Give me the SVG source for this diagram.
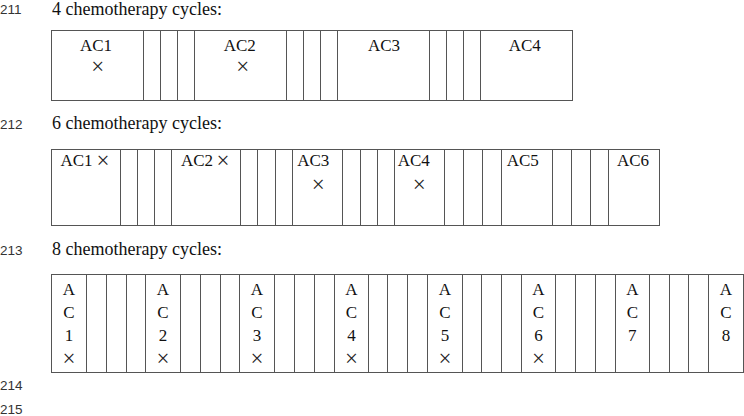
<svg xmlns="http://www.w3.org/2000/svg" width="744" height="416" viewBox="0 0 744 416">
<style>
.c{fill:none;stroke:#555;stroke-width:1}
.l{font-family:"Liberation Serif","Times New Roman",serif;font-size:17px;fill:#111;text-anchor:middle}
.ls{font-family:"Liberation Serif","Times New Roman",serif;font-size:17px;fill:#111}
.x{font-family:"Liberation Serif","Times New Roman",serif;font-size:23px;fill:#222;text-anchor:middle}
.t{font-family:"Liberation Serif","Times New Roman",serif;font-size:18px;fill:#111}
.n{font-family:"Liberation Sans",Arial,sans-serif;font-size:13.5px;fill:#333}
</style>
<rect width="744" height="416" fill="#fff"/>
<g id="line-numbers">
<text class="n" x="0" y="13.5">211</text>
<text class="n" x="0" y="128.5">212</text>
<text class="n" x="0" y="255">213</text>
<text class="n" x="0" y="390">214</text>
<text class="n" x="0" y="414">215</text>
</g>
<g id="titles">
<text class="t" x="52" y="14.5">4 chemotherapy cycles:</text>
<text class="t" x="52" y="128.5">6 chemotherapy cycles:</text>
<text class="t" x="52" y="255">8 chemotherapy cycles:</text>
</g>

<g id="row4">
<g id="r4-ac1"><rect class="c" x="51.5" y="30.5" width="92" height="70"/><text class="l" x="96" y="51">AC1</text><text class="x" x="97.7" y="74">×</text></g>
<g id="r4-gap1"><rect class="c" x="143.5" y="30.5" width="17" height="70"/><rect class="c" x="160.5" y="30.5" width="17" height="70"/><rect class="c" x="177.5" y="30.5" width="17" height="70"/></g>
<g id="r4-ac2"><rect class="c" x="194.5" y="30.5" width="92" height="70"/><text class="l" x="239.7" y="51">AC2</text><text class="x" x="242.7" y="74">×</text></g>
<g id="r4-gap2"><rect class="c" x="286.5" y="30.5" width="17" height="70"/><rect class="c" x="303.5" y="30.5" width="17" height="70"/><rect class="c" x="320.5" y="30.5" width="17" height="70"/></g>
<g id="r4-ac3"><rect class="c" x="337.5" y="30.5" width="92" height="70"/><text class="l" x="384" y="51">AC3</text></g>
<g id="r4-gap3"><rect class="c" x="429.5" y="30.5" width="17" height="70"/><rect class="c" x="446.5" y="30.5" width="17" height="70"/><rect class="c" x="463.5" y="30.5" width="17" height="70"/></g>
<g id="r4-ac4"><rect class="c" x="480.5" y="30.5" width="92" height="70"/><text class="l" x="524.7" y="51">AC4</text></g>
</g>

<g id="row6">
<g id="r6-ac1"><rect class="c" x="51.5" y="149.5" width="69" height="76"/><text class="ls" x="60.5" y="165.5">AC1</text><text class="x" x="103" y="167.5">×</text></g>
<g id="r6-gap1"><rect class="c" x="120.5" y="149.5" width="17" height="76"/><rect class="c" x="137.5" y="149.5" width="17" height="76"/><rect class="c" x="154.5" y="149.5" width="17" height="76"/></g>
<g id="r6-ac2"><rect class="c" x="171.5" y="149.5" width="69" height="76"/><text class="ls" x="181" y="165.5">AC2</text><text class="x" x="223" y="167.5">×</text></g>
<g id="r6-gap2"><rect class="c" x="240.5" y="149.5" width="17" height="76"/><rect class="c" x="257.5" y="149.5" width="18" height="76"/><rect class="c" x="275.5" y="149.5" width="17" height="76"/></g>
<g id="r6-ac3"><rect class="c" x="292.5" y="149.5" width="50" height="76"/><text class="l" x="313.3" y="166">AC3</text><text class="x" x="318.3" y="192">×</text></g>
<g id="r6-gap3"><rect class="c" x="342.5" y="149.5" width="18" height="76"/><rect class="c" x="360.5" y="149.5" width="17" height="76"/><rect class="c" x="377.5" y="149.5" width="17" height="76"/></g>
<g id="r6-ac4"><rect class="c" x="394.5" y="149.5" width="50" height="76"/><text class="l" x="413.7" y="166">AC4</text><text class="x" x="419.3" y="192">×</text></g>
<g id="r6-gap4"><rect class="c" x="444.5" y="149.5" width="19" height="76"/><rect class="c" x="463.5" y="149.5" width="19" height="76"/><rect class="c" x="482.5" y="149.5" width="19" height="76"/></g>
<g id="r6-ac5"><rect class="c" x="501.5" y="149.5" width="51" height="76"/><text class="l" x="522.8" y="166">AC5</text></g>
<g id="r6-gap5"><rect class="c" x="552.5" y="149.5" width="19" height="76"/><rect class="c" x="571.5" y="149.5" width="19" height="76"/><rect class="c" x="590.5" y="149.5" width="18" height="76"/></g>
<g id="r6-ac6"><rect class="c" x="608.5" y="149.5" width="51" height="76"/><text class="l" x="633" y="166">AC6</text></g>
</g>

<g id="row8">
<g id="r8-ac1"><rect class="c" x="51.5" y="274.5" width="35" height="98"/><text class="l" x="69" y="294.5">A</text><text class="l" x="69" y="317.5">C</text><text class="l" x="69" y="340.5">1</text><text class="x" x="69" y="365.5">×</text></g>
<g id="r8-gap1"><rect class="c" x="86.5" y="274.5" width="20" height="98"/><rect class="c" x="106.5" y="274.5" width="20" height="98"/><rect class="c" x="126.5" y="274.5" width="19" height="98"/></g>
<g id="r8-ac2"><rect class="c" x="145.5" y="274.5" width="35" height="98"/><text class="l" x="163" y="294.5">A</text><text class="l" x="163" y="317.5">C</text><text class="l" x="163" y="340.5">2</text><text class="x" x="163" y="365.5">×</text></g>
<g id="r8-gap2"><rect class="c" x="180.5" y="274.5" width="20" height="98"/><rect class="c" x="200.5" y="274.5" width="20" height="98"/><rect class="c" x="220.5" y="274.5" width="19" height="98"/></g>
<g id="r8-ac3"><rect class="c" x="239.5" y="274.5" width="35" height="98"/><text class="l" x="257" y="294.5">A</text><text class="l" x="257" y="317.5">C</text><text class="l" x="257" y="340.5">3</text><text class="x" x="257" y="365.5">×</text></g>
<g id="r8-gap3"><rect class="c" x="274.5" y="274.5" width="20" height="98"/><rect class="c" x="294.5" y="274.5" width="20" height="98"/><rect class="c" x="314.5" y="274.5" width="20" height="98"/></g>
<g id="r8-ac4"><rect class="c" x="334.5" y="274.5" width="34" height="98"/><text class="l" x="351.5" y="294.5">A</text><text class="l" x="351.5" y="317.5">C</text><text class="l" x="351.5" y="340.5">4</text><text class="x" x="351.5" y="365.5">×</text></g>
<g id="r8-gap4"><rect class="c" x="368.5" y="274.5" width="19" height="98"/><rect class="c" x="387.5" y="274.5" width="20" height="98"/><rect class="c" x="407.5" y="274.5" width="20" height="98"/></g>
<g id="r8-ac5"><rect class="c" x="427.5" y="274.5" width="35" height="98"/><text class="l" x="445" y="294.5">A</text><text class="l" x="445" y="317.5">C</text><text class="l" x="445" y="340.5">5</text><text class="x" x="445" y="365.5">×</text></g>
<g id="r8-gap5"><rect class="c" x="462.5" y="274.5" width="19" height="98"/><rect class="c" x="481.5" y="274.5" width="20" height="98"/><rect class="c" x="501.5" y="274.5" width="20" height="98"/></g>
<g id="r8-ac6"><rect class="c" x="521.5" y="274.5" width="34" height="98"/><text class="l" x="538.5" y="294.5">A</text><text class="l" x="538.5" y="317.5">C</text><text class="l" x="538.5" y="340.5">6</text><text class="x" x="538.5" y="365.5">×</text></g>
<g id="r8-gap6"><rect class="c" x="555.5" y="274.5" width="20" height="98"/><rect class="c" x="575.5" y="274.5" width="20" height="98"/><rect class="c" x="595.5" y="274.5" width="20" height="98"/></g>
<g id="r8-ac7"><rect class="c" x="615.5" y="274.5" width="34" height="98"/><text class="l" x="632.3" y="294.5">A</text><text class="l" x="632.3" y="317.5">C</text><text class="l" x="632.3" y="340.5">7</text></g>
<g id="r8-gap7"><rect class="c" x="649.5" y="274.5" width="20" height="98"/><rect class="c" x="669.5" y="274.5" width="19" height="98"/><rect class="c" x="688.5" y="274.5" width="20" height="98"/></g>
<g id="r8-ac8"><rect class="c" x="708.5" y="274.5" width="35" height="98"/><text class="l" x="726" y="294.5">A</text><text class="l" x="726" y="317.5">C</text><text class="l" x="726" y="340.5">8</text></g>
</g>
</svg>
